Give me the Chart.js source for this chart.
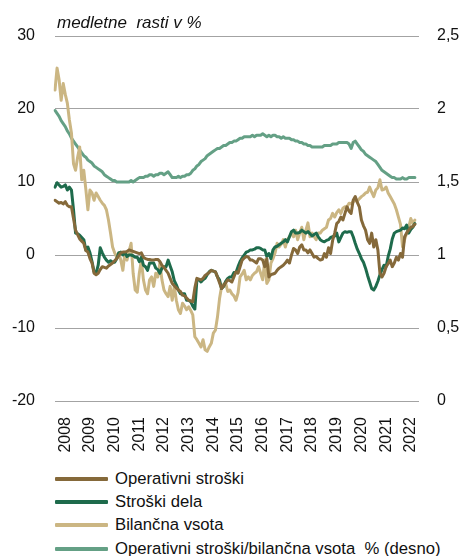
<!DOCTYPE html>
<html>
<head>
<meta charset="utf-8">
<script src="https://cdn.jsdelivr.net/npm/chart.js@4.4.1/dist/chart.umd.min.js"></script>
<style>
html,body{margin:0;padding:0;background:#fff;}
#wrap{position:relative;width:466px;height:556px;font-family:"Liberation Sans",Arial,sans-serif;color:#111;}
#c{position:absolute;left:0;top:0;}
#title{position:absolute;left:57px;top:13px;font-style:italic;font-size:17px;white-space:pre;line-height:20px;}
#legend{position:absolute;left:55px;top:467px;}
.row{display:flex;align-items:center;height:23.3px;font-size:16.7px;white-space:pre;}
.sw{width:53px;height:4px;margin-right:7px;border-radius:1px;}
</style>
</head>
<body>
<div id="wrap">
<canvas id="c" width="466" height="460" style="width:466px;height:460px;"></canvas>
<div id="title">medletne  rasti v %</div>
<div id="legend"></div>
</div>
<script>
// Year categories (monthly data, Jan 2008 onward; axis runs two months past last observation)
const years = ['2008','2009','2010','2011','2012','2013','2014','2015','2016','2017','2018','2019','2020','2021','2022'];
const axisMonths = 178;

// Operativni stroški (left axis, %)
const opStroski = [
  7.5, 7.3, 7.1, 7.2, 7.0, 7.3, 6.8, 6.6, 6.6, 5.0, 3.4, 2.8,
  2.2, 1.9, 1.6, 0.6, 0.4, -0.5, -1.1, -2.5, -2.7, -2.5, -2.0, -1.6,
  -1.7, -1.8, -1.5, -1.3, -1.1, -0.8, -0.5, -0.1, 0.3, 0.4, 0.4, 0.5,
  0.7, 0.6, 0.5, 0.4, 0.3, 0.2, 0.3, -0.3, -0.5, -0.6, -0.6, -0.7,
  -0.7, -0.6, -0.6, -0.9, -1.4, -1.7, -2.1, -2.5, -3.2, -3.9, -4.2, -4.5,
  -4.8, -5.0, -5.5, -5.6, -5.9, -6.2, -6.3, -6.4, -4.5, -3.2, -3.3, -3.4,
  -3.2, -2.8, -2.6, -2.4, -2.1, -2.2, -2.3, -3.0, -3.8, -4.6, -4.2, -3.8,
  -3.4, -3.5, -3.7, -3.0, -2.3, -2.5, -1.6, -0.7, -0.4, -0.2, -0.3, -0.7,
  -0.7, -0.9, -1.1, -0.5, -0.5, -0.7, -1.6, -0.5, -3.0, -2.7, -2.6, -2.5,
  -2.1, -1.8, -1.6, -1.4, -1.1, -0.7, -1.1, 0.0, 0.9, 0.7, 0.2, 1.1,
  1.4, 0.7, 0.7, 0.3, 0.7, 0.2, -0.3, -0.2, -0.5, -0.7, -0.6, 0.2,
  -0.3, 1.0, 0.2, 2.0, 3.0, 4.3, 4.6, 5.2, 4.8, 5.7, 6.6, 6.0,
  5.7, 7.5, 8.0, 7.2, 6.6, 4.8, 4.0, 3.4, 2.1, 1.6, 3.0, 1.1,
  2.1, 0.7, -2.5, -3.0, -2.5, -1.6, -1.2, -0.7, -1.6, -1.1, -0.3, -0.7,
  0.2, -0.3, 2.5, 3.0, 3.4, 3.8, 3.9, 4.2
];

// Stroški dela (left axis, %)
const strDela = [
  9.3, 9.9, 9.6, 9.3, 9.4, 9.6, 8.9, 9.3, 8.9, 6.2, 3.0, 2.9,
  2.7, 2.4, 2.1, 0.7, 1.1, 0.3, -0.9, -2.3, -2.5, -1.4, 1.0, 0.3,
  -0.3, -0.7, -1.0, -0.8, -1.0, -1.0, -0.5, 0.3, 0.4, 0.0, 0.3, -0.2,
  0.0, 0.0, -0.1, -0.3, -0.3, -0.9, -0.3, -1.4, -1.6, -2.1, -1.1, -1.1,
  -1.1, -1.8, -2.0, -2.5, -1.8, -1.6, -1.6, -0.7, -1.5, -2.3, -3.5, -4.1,
  -4.8, -5.3, -5.3, -5.3, -6.2, -6.2, -6.4, -7.0, -7.4, -3.4, -3.4, -3.7,
  -3.4, -3.2, -2.7, -2.3, -2.1, -2.2, -2.3, -3.0, -3.4, -4.6, -4.3, -3.6,
  -3.2, -3.0, -3.0, -2.4, -2.4, -1.6, -0.9, -0.4, 0.0, 0.4, 0.5, 0.7,
  0.7, 0.8, 1.0, 1.0, 0.9, 0.7, 0.7, -0.2, 0.2, -0.5, 0.7, 1.1,
  1.2, 1.4, 1.6, 1.8, 2.1, 1.8, 2.5, 3.2, 3.4, 3.0, 3.0, 3.1,
  3.4, 3.2, 3.0, 3.2, 2.9, 2.6, 2.8, 3.0, 2.5, 2.1, 1.9, 1.8,
  2.0, 2.1, 2.4, 2.5, 2.6, 3.0, 1.8, 2.4, 3.0, 3.2, 3.1, 3.2,
  3.2, 2.5, 1.6, 0.8, 0.2, -0.5, -1.0, -1.8, -2.8, -3.7, -4.6, -4.8,
  -4.3, -3.6, -2.7, -2.0, -1.4, -1.6, -0.2, 0.8, 2.2, 3.0, 3.2, 3.3,
  3.4, 3.7, 3.6, 4.1, 3.0, 3.5, 3.8, 4.3
];

// Bilančna vsota (left axis, %)
const bilVsota = [
  22.6, 25.6, 24.0, 21.2, 23.5, 22.0, 20.8, 18.5, 16.7, 12.5, 11.6, 13.4,
  14.8, 10.3, 11.6, 9.0, 6.2, 8.9, 8.5, 7.5, 8.5, 8.0, 7.5, 7.1,
  6.8, 6.2, 4.8, 3.0, 1.1, 0.3, -0.3, 0.3, -0.7, -2.1, 0.3, -0.7,
  0.5, 1.6, -2.5, -4.8, -5.1, -2.5, -0.7, -3.4, -4.8, -5.3, -3.4, -3.0,
  -4.3, -2.5, -3.0, -1.1, -3.4, -4.8, -5.3, -5.7, -4.3, -6.2, -4.3, -6.2,
  -7.5, -8.0, -6.6, -7.0, -7.5, -7.1, -7.6, -8.2, -11.2, -11.6, -12.1, -12.6,
  -11.6, -13.0, -13.2, -12.6, -12.1, -10.7, -10.3, -8.5, -6.0, -4.3, -4.0, -3.9,
  -5.0, -4.8, -5.3, -5.6, -6.2, -5.2, -3.0, -2.6, -2.1, -3.4, -3.0, -3.4,
  -2.8, -2.5, -2.3, -1.6, -2.5, -3.4, -0.7, -3.9, -3.4, -1.1, -0.5, 0.3,
  1.6, 1.1, 1.5, 2.1, 1.1, 2.1, 2.5, 3.0, 2.5, 3.4, 2.1, 3.0,
  3.8, 2.1, 3.4, 4.4, 2.5, 3.0, 2.5, 2.1, 3.0, 3.0, 3.4, 3.6,
  3.8, 4.8, 5.0, 5.7, 5.2, 5.8, 6.2, 5.7, 6.4, 6.6, 6.6, 7.1,
  7.0, 7.3, 7.5, 7.4, 7.7, 8.0, 8.2, 8.5, 8.6, 9.3, 8.6, 8.0,
  8.9, 9.2, 10.3, 8.9, 9.0, 9.3, 8.5, 8.0, 7.5, 7.0, 6.2, 5.2,
  4.2, 1.1, 2.1, 3.0, 3.8, 5.0, 4.3, 4.8
];

// Operativni stroški / bilančna vsota, % (right axis)
const opBilRatio = [
  1.99, 1.97, 1.95, 1.92, 1.90, 1.88, 1.85, 1.83, 1.80, 1.78, 1.76, 1.74,
  1.72, 1.70, 1.68, 1.67, 1.65, 1.64, 1.63, 1.61, 1.60, 1.59, 1.58, 1.57,
  1.55, 1.54, 1.53, 1.52, 1.51, 1.51, 1.50, 1.50, 1.50, 1.50, 1.50, 1.50,
  1.50, 1.51, 1.50, 1.51, 1.52, 1.53, 1.53, 1.53, 1.54, 1.54, 1.55, 1.55,
  1.54, 1.55, 1.55, 1.56, 1.56, 1.55, 1.56, 1.57, 1.55, 1.53, 1.53, 1.53,
  1.54, 1.53, 1.54, 1.54, 1.55, 1.55, 1.56, 1.58, 1.59, 1.61, 1.62, 1.64,
  1.65, 1.66, 1.68, 1.69, 1.70, 1.71, 1.72, 1.73, 1.73, 1.74, 1.75, 1.75,
  1.76, 1.77, 1.77, 1.78, 1.78, 1.79, 1.80, 1.80, 1.81, 1.81, 1.81, 1.81,
  1.82, 1.81, 1.82, 1.82, 1.82, 1.83, 1.82, 1.81, 1.82, 1.81, 1.82, 1.82,
  1.81, 1.81, 1.80, 1.81, 1.80, 1.80, 1.80, 1.79, 1.79, 1.78, 1.78, 1.77,
  1.77, 1.76, 1.76, 1.75, 1.75, 1.74, 1.74, 1.74, 1.74, 1.74, 1.74, 1.75,
  1.75, 1.75, 1.75, 1.76, 1.76, 1.76, 1.77, 1.77, 1.77, 1.77, 1.77, 1.76,
  1.73, 1.77, 1.78, 1.76, 1.74, 1.72, 1.71, 1.69, 1.68, 1.67, 1.66, 1.65,
  1.64, 1.62, 1.60, 1.58, 1.57, 1.56, 1.55, 1.54, 1.53, 1.53, 1.52, 1.52,
  1.52, 1.53, 1.52, 1.52, 1.53, 1.53, 1.53, 1.53
];

// Left / right axis tick settings
const leftTicks = {min: -20, max: 30, step: 10};
const rightTicks = {min: 0, max: 2.5, step: 0.5};

const seriesNames = ['Operativni stroški', 'Stroški dela', 'Bilančna vsota', 'Operativni stroški/bilančna vsota  % (desno)'];
const seriesColors = ['#85693a', '#1e6b4c', '#cbb683', '#64a085'];

// Monthly category labels built from the year list
const labels = [];
for (let i = 0; i < axisMonths; i++) {
  const y = years[Math.min(Math.floor(i / 12), years.length - 1)];
  labels.push(y + '-' + String(i % 12 + 1).padStart(2, '0'));
}

const FONT = {family: '"Liberation Sans", Arial, sans-serif', size: 16};
const mk = (name, data, color, axis) => ({
  label: name, data: data, borderColor: color, backgroundColor: color,
  borderWidth: 3, pointRadius: 0, tension: 0, yAxisID: axis, fill: false,
  borderJoinStyle: 'round', borderCapStyle: 'round'
});
const zeroPad = s => { s.paddingLeft = 0; s.paddingRight = 0; s.paddingTop = 0; s.paddingBottom = 0; };

const chart = new Chart(document.getElementById('c'), {
  type: 'line',
  data: {
    labels: labels,
    datasets: [
      mk(seriesNames[0], opStroski, seriesColors[0], 'yL'),
      mk(seriesNames[1], strDela, seriesColors[1], 'yL'),
      mk(seriesNames[2], bilVsota, seriesColors[2], 'yL'),
      mk(seriesNames[3], opBilRatio, seriesColors[3], 'yR')
    ]
  },
  options: {
    responsive: false,
    animation: false,
    devicePixelRatio: 1,
    layout: {padding: {left: 11, right: 2, top: 36, bottom: 5}},
    plugins: {legend: {display: false}, tooltip: {enabled: false}, title: {display: false}},
    scales: {
      x: {
        type: 'category',
        offset: false,
        grid: {display: false, drawTicks: false},
        border: {display: false},
        afterFit: s => { zeroPad(s); s.height = 54; },
        ticks: {
          autoSkip: false, minRotation: 90, maxRotation: 90, padding: 16,
          color: '#111', font: FONT,
          callback: function (v, idx) { return idx % 12 === 5 ? labels[idx].slice(0, 4) : ''; }
        }
      },
      yL: {
        position: 'left', min: leftTicks.min, max: leftTicks.max,
        grid: {color: '#a3a3a3', lineWidth: 1, drawTicks: false},
        border: {display: false},
        afterFit: s => { zeroPad(s); s.width = 44; },
        ticks: {stepSize: leftTicks.step, padding: 20, color: '#111', font: FONT}
      },
      yR: {
        position: 'right', min: rightTicks.min, max: rightTicks.max,
        grid: {display: false, drawTicks: false},
        border: {display: false},
        afterFit: s => { zeroPad(s); s.width = 45; },
        ticks: {stepSize: rightTicks.step, padding: 18, color: '#111', font: FONT,
          callback: v => String(Math.round(v * 10) / 10).replace('.', ',')}
      }
    }
  }
});

// HTML legend built from the chart's datasets
const lg = document.getElementById('legend');
chart.data.datasets.forEach(ds => {
  const row = document.createElement('div'); row.className = 'row';
  const sw = document.createElement('span'); sw.className = 'sw'; sw.style.background = ds.borderColor;
  const tx = document.createElement('span'); tx.textContent = ds.label;
  row.appendChild(sw); row.appendChild(tx); lg.appendChild(row);
});
</script>
</body>
</html>
